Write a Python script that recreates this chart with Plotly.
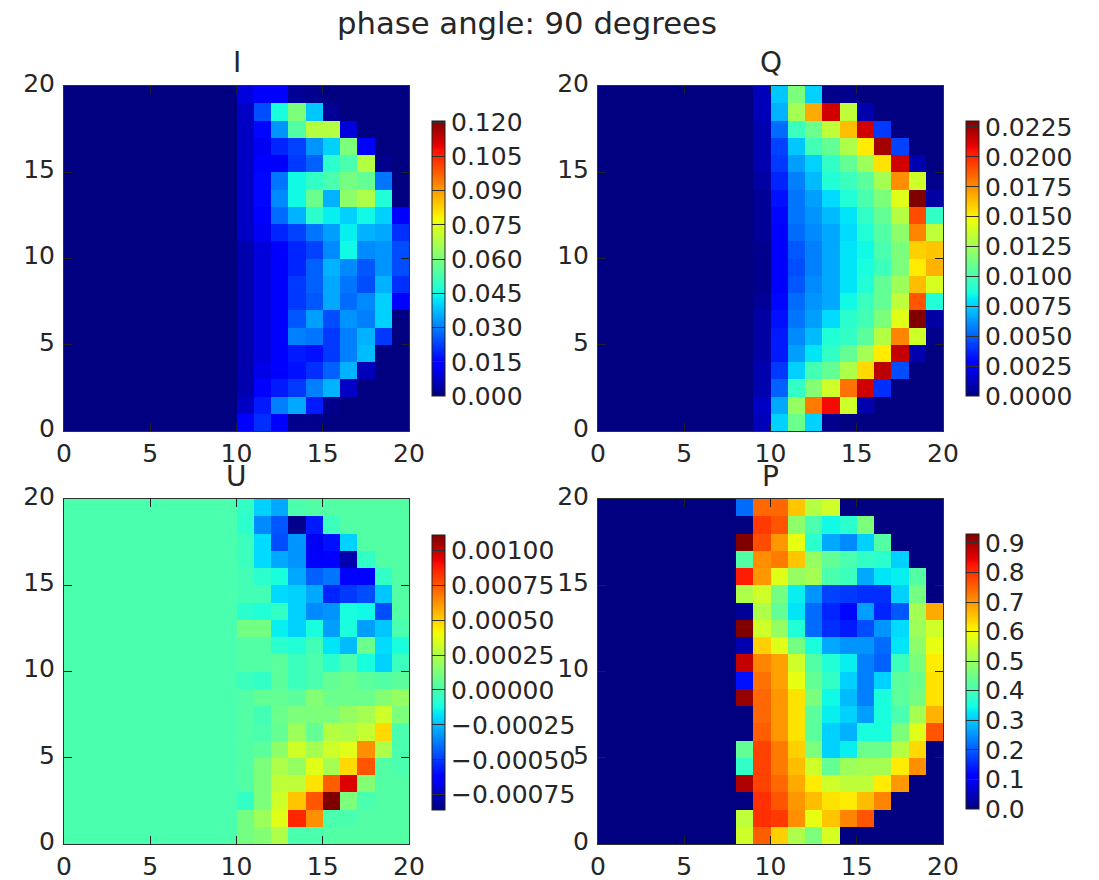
import numpy as np
import plotly.graph_objects as go

# Every row lists the coloured cells (top row first), as a percentage of each panel's colour range.
# Cells left of the first listed column take the panel's background level.
I_FIRST_COL = 10
I_PCT = [
    [8, 11, 12, 2, 1, 0, 0, 0, 0, 0],
    [6, 20, 38, 50, 32, 2, 0, 0, 0, 0],
    [6, 13, 27, 45, 57, 57, 8, 0, 0, 0],
    [6, 10, 16, 19, 27, 33, 50, 12, 0, 0],
    [6, 11, 12, 18, 22, 40, 44, 57, 1, 0],
    [6, 13, 24, 37, 41, 44, 49, 47, 24, 0],
    [6, 13, 26, 37, 48, 30, 52, 56, 39, 0],
    [6, 12, 23, 30, 40, 36, 33, 37, 33, 12],
    [6, 10, 16, 19, 24, 28, 36, 30, 29, 17],
    [4, 8, 12, 16, 19, 26, 37, 26, 27, 20],
    [4, 8, 12, 16, 22, 30, 26, 21, 27, 20],
    [4, 8, 12, 18, 22, 29, 24, 20, 30, 17],
    [4, 8, 12, 18, 21, 29, 23, 26, 33, 12],
    [4, 8, 12, 21, 28, 20, 27, 25, 33, 0],
    [4, 8, 12, 25, 24, 18, 25, 30, 18, 0],
    [4, 8, 12, 15, 14, 18, 25, 31, 0, 0],
    [4, 9, 11, 14, 17, 22, 30, 5, 0, 0],
    [4, 12, 15, 18, 25, 30, 6, 0, 0, 0],
    [6, 15, 25, 29, 15, 1, 0, 0, 0, 0],
    [11, 17, 12, 1, 1, 0, 0, 0, 0, 0],
]
Q_FIRST_COL = 9
Q_PCT = [
    [5, 32, 50, 33, 1, 1, 0, 0, 0, 0, 0],
    [5, 30, 55, 73, 93, 58, 4, 0, 0, 0, 0],
    [4, 23, 42, 48, 58, 71, 93, 18, 0, 0, 0],
    [4, 19, 32, 43, 47, 56, 66, 97, 19, 0, 0],
    [4, 18, 28, 33, 41, 47, 54, 67, 93, 4, 0],
    [3, 16, 25, 31, 39, 42, 46, 55, 76, 60, 1],
    [2, 14, 24, 28, 34, 39, 44, 50, 62, 100, 3],
    [2, 13, 24, 27, 31, 35, 41, 47, 57, 83, 41],
    [2, 12, 23, 26, 29, 34, 39, 45, 52, 77, 58],
    [1, 12, 21, 25, 29, 35, 37, 44, 50, 69, 70],
    [1, 12, 20, 25, 29, 35, 38, 42, 50, 66, 72],
    [1, 12, 21, 26, 29, 35, 39, 47, 54, 71, 61],
    [2, 13, 23, 27, 29, 37, 42, 47, 58, 82, 39],
    [3, 14, 24, 28, 34, 40, 43, 50, 62, 100, 3],
    [3, 15, 26, 31, 39, 41, 46, 57, 77, 60, 1],
    [3, 15, 28, 35, 41, 47, 55, 66, 94, 4, 0],
    [4, 18, 33, 43, 47, 56, 68, 95, 20, 0, 0],
    [4, 22, 41, 51, 60, 79, 93, 17, 0, 0, 0],
    [6, 29, 53, 78, 90, 60, 4, 0, 0, 0, 0],
    [5, 33, 48, 33, 1, 0, 0, 0, 0, 0, 0],
]
U_FIRST_COL = 10
U_PCT = [
    [41, 33, 29, 44, 45, 45, 45, 45, 45, 45],
    [40, 26, 21, 1, 15, 42, 45, 45, 45, 45],
    [42, 34, 20, 27, 10, 14, 33, 45, 45, 45],
    [42, 34, 29, 27, 12, 12, 4, 41, 45, 45],
    [43, 40, 38, 29, 22, 24, 11, 11, 41, 45],
    [43, 43, 34, 33, 29, 16, 18, 20, 32, 45],
    [40, 39, 41, 33, 26, 27, 38, 37, 20, 45],
    [49, 49, 36, 33, 38, 28, 38, 28, 32, 44],
    [45, 45, 40, 39, 43, 35, 31, 48, 34, 38],
    [45, 45, 46, 42, 44, 40, 44, 38, 33, 42],
    [42, 41, 46, 42, 44, 47, 48, 46, 45, 46],
    [45, 47, 47, 46, 51, 48, 48, 48, 51, 53],
    [45, 43, 48, 50, 50, 50, 53, 55, 60, 50],
    [45, 44, 47, 54, 47, 57, 56, 59, 68, 44],
    [45, 46, 52, 60, 55, 60, 62, 76, 56, 44],
    [45, 50, 56, 53, 62, 55, 68, 82, 45, 44],
    [45, 50, 58, 58, 67, 81, 92, 51, 45, 45],
    [41, 50, 60, 70, 82, 100, 50, 44, 45, 45],
    [49, 54, 62, 87, 76, 44, 44, 45, 45, 45],
    [49, 51, 56, 44, 44, 45, 45, 45, 45, 45],
]
P_FIRST_COL = 8
P_PCT = [
    [23, 80, 80, 70, 57, 60, 0, 0, 0, 0, 0, 0],
    [0, 85, 82, 52, 44, 37, 40, 50, 0, 0, 0, 0],
    [100, 83, 75, 63, 40, 29, 26, 33, 45, 0, 0, 0],
    [45, 76, 78, 70, 53, 47, 44, 41, 40, 33, 0, 0],
    [88, 75, 62, 53, 55, 44, 42, 29, 35, 36, 45, 0],
    [56, 60, 49, 36, 27, 19, 18, 17, 17, 33, 49, 0],
    [2, 56, 47, 35, 23, 16, 13, 28, 16, 21, 55, 73],
    [100, 60, 53, 39, 23, 17, 15, 20, 27, 34, 54, 60],
    [4, 69, 62, 49, 38, 29, 27, 27, 23, 35, 52, 63],
    [94, 77, 74, 60, 45, 39, 36, 25, 22, 42, 50, 66],
    [14, 79, 74, 63, 47, 41, 33, 25, 33, 46, 48, 67],
    [98, 80, 75, 67, 50, 37, 31, 25, 38, 46, 49, 67],
    [0, 80, 75, 67, 46, 36, 33, 28, 38, 44, 55, 72],
    [0, 81, 75, 67, 46, 33, 30, 38, 38, 50, 62, 82],
    [47, 84, 78, 69, 50, 33, 36, 48, 48, 57, 68, 0],
    [41, 84, 78, 71, 60, 47, 54, 55, 55, 66, 76, 0],
    [96, 84, 80, 73, 66, 60, 58, 58, 66, 75, 0, 0],
    [0, 86, 82, 75, 71, 67, 66, 71, 77, 0, 0, 0],
    [58, 86, 85, 76, 63, 70, 77, 82, 0, 0, 0, 0],
    [60, 81, 69, 56, 50, 61, 0, 0, 0, 0, 0, 0],
]

I_RANGE = (0.0, 0.1205)
Q_RANGE = (0.0, 0.0230)
U_RANGE = (-0.00086, 0.00111)
P_RANGE = (0.0, 0.93)
U_BACKGROUND_PCT = 44

I_TICKS = [0.0, 0.015, 0.03, 0.045, 0.06, 0.075, 0.09, 0.105, 0.12]
I_LABELS = ["0.000", "0.015", "0.030", "0.045", "0.060", "0.075", "0.090", "0.105", "0.120"]
Q_TICKS = [0.0, 0.0025, 0.005, 0.0075, 0.01, 0.0125, 0.015, 0.0175, 0.02, 0.0225]
Q_LABELS = ["0.0000", "0.0025", "0.0050", "0.0075", "0.0100", "0.0125", "0.0150", "0.0175", "0.0200", "0.0225"]
U_TICKS = [-0.00075, -0.0005, -0.00025, 0.0, 0.00025, 0.0005, 0.00075, 0.001]
U_LABELS = ["\u22120.00075", "\u22120.00050", "\u22120.00025", "0.00000", "0.00025", "0.00050", "0.00075", "0.00100"]
P_TICKS = [0.0, 0.1, 0.2, 0.3, 0.4, 0.5, 0.6, 0.7, 0.8, 0.9]
P_LABELS = ["0.0", "0.1", "0.2", "0.3", "0.4", "0.5", "0.6", "0.7", "0.8", "0.9"]
AXIS_TICKS = [0, 5, 10, 15, 20]

W, H = 1099, 880
FONT = "DejaVu Sans"
TICK_SIZE = 25
TEXT = "#262626"


def grid(rows, first_col, rng, background=0):
    z = np.full((20, 20), background, dtype=float)
    for i, row in enumerate(rows):
        z[19 - i, first_col:first_col + len(row)] = row
    return rng[0] + z / 100 * (rng[1] - rng[0])


def jet():
    stops = sorted({0, .11, .125, .34, .35, .375, .64, .65, .66, .89, .91, 1})
    r = np.interp(stops, [0, .35, .66, .89, 1], [0, 0, 1, 1, .5])
    g = np.interp(stops, [0, .125, .375, .64, .91, 1], [0, 0, 1, 1, 0, 0])
    b = np.interp(stops, [0, .11, .34, .65, 1], [.5, 1, 1, 0, 0])
    return [[s, f"rgb({round(a*255)},{round(c*255)},{round(d*255)})"] for s, a, c, d in zip(stops, r, g, b)]


panels = [
    ("I", grid(I_PCT, I_FIRST_COL, I_RANGE), I_RANGE, I_TICKS, I_LABELS, (64, 409, 86, 431), (432, 121, 396)),
    ("Q", grid(Q_PCT, Q_FIRST_COL, Q_RANGE), Q_RANGE, Q_TICKS, Q_LABELS, (598, 943, 86, 431), (966, 121, 396)),
    ("U", grid(U_PCT, U_FIRST_COL, U_RANGE, U_BACKGROUND_PCT), U_RANGE, U_TICKS, U_LABELS, (64, 409, 499, 844), (432, 535, 810)),
    ("P", grid(P_PCT, P_FIRST_COL, P_RANGE), P_RANGE, P_TICKS, P_LABELS, (598, 943, 499, 844), (966, 534, 809)),
]

fig = go.Figure()
layout = dict(
    width=W, height=H, margin=dict(l=0, r=0, t=0, b=0, autoexpand=False), autosize=False,
    paper_bgcolor="white", plot_bgcolor="white", showlegend=False,
    font=dict(family=FONT, size=TICK_SIZE, color=TEXT),
)
annotations = [dict(text="phase angle: 90 degrees", x=527 / W, y=1 - 24 / H, xref="paper", yref="paper",
                    xanchor="center", yanchor="middle", showarrow=False, font=dict(size=30.7, color=TEXT))]

for k, (name, z, rng, ticks, labels, box, cb) in enumerate(panels, start=1):
    x0, x1, y0, y1 = box
    suffix = "" if k == 1 else str(k)
    fig.add_trace(go.Heatmap(
        z=z, x0=0.5, dx=1, y0=0.5, dy=1, zmin=rng[0], zmax=rng[1], colorscale=jet(),
        xaxis="x" + suffix, yaxis="y" + suffix,
        colorbar=dict(
            xref="paper", yref="paper", x=cb[0] / W, y=1 - cb[2] / H,
            xanchor="left", yanchor="bottom", xpad=0, ypad=0,
            thicknessmode="pixels", thickness=13, lenmode="pixels", len=cb[2] - cb[1],
            tickmode="array", tickvals=ticks, ticktext=labels, ticks="inside", ticklen=13, tickwidth=1,
            tickcolor="#303030", outlinecolor="#202020", outlinewidth=1, borderwidth=0,
            tickfont=dict(family=FONT, size=TICK_SIZE, color=TEXT),
        ),
    ))
    common = dict(range=[0, 20], tickmode="array", tickvals=AXIS_TICKS, ticks="inside", ticklen=8, tickwidth=1,
                  tickangle=0, tickcolor="#202020", showline=True, linecolor="#303030", linewidth=1,
                  mirror="ticks", showgrid=False, zeroline=False,
                  tickfont=dict(family=FONT, size=TICK_SIZE, color=TEXT))
    layout["xaxis" + suffix] = dict(common, domain=[x0 / W, x1 / W], anchor="y" + suffix)
    layout["yaxis" + suffix] = dict(common, domain=[1 - y1 / H, 1 - y0 / H], anchor="x" + suffix,
                                    ticklabelstandoff=3, ticklabelshift=-3)
    annotations.append(dict(text=name, x=(x0 + x1) / 2 / W, y=1 - (y0 - 23) / H, xref="paper", yref="paper",
                            xanchor="center", yanchor="middle", showarrow=False, font=dict(size=28, color=TEXT)))

layout["annotations"] = annotations
fig.update_layout(**layout)
fig.write_html("out.html", config=dict(displayModeBar=False),
               post_script="document.body.style.margin='0';document.body.style.overflow='hidden';")
